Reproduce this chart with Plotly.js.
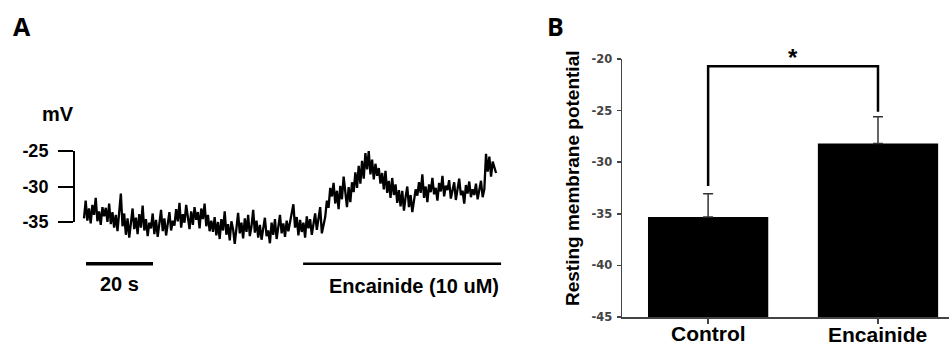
<!DOCTYPE html>
<html>
<head>
<meta charset="utf-8">
<script src="https://cdn.plot.ly/plotly-3.0.1.min.js"></script>
<style>html,body{margin:0;padding:0;background:#fff;}#chart{width:949px;height:346px;}</style>
</head>
<body>
<div id="chart"></div>
<script>
// ---------- Panel A data: membrane potential trace (mV), sampled every 0.5 s ----------
const sampleInterval = 0.5; // s
const membranePotential = [
  -34.5, -32.0, -34.8, -33.1, -35.2, -32.6, -34.0, -31.6, -34.9, -33.5, -35.4, -32.9, -34.2, -33.0, -35.0, -32.4,
  -35.3, -33.6, -35.8, -34.0, -36.3, -33.4, -31.0, -35.6, -33.8, -36.8, -34.5, -37.2, -34.9, -33.1, -36.0, -34.4,
  -36.7, -33.9, -35.8, -32.7, -36.2, -34.6, -37.0, -35.1,
  -35.9, -33.8, -36.7, -34.7, -37.1, -35.0, -33.3, -36.3, -34.5, -36.9, -35.4, -33.6, -36.2, -34.8,
  -35.5, -33.2, -34.9, -32.3, -35.8, -33.9, -35.1, -32.6, -34.3, -36.0, -33.5, -35.4, -32.9, -34.7, -33.6, -35.9,
  -33.1, -34.6, -32.4, -35.6, -34.0, -36.3, -34.8,
  -36.4, -34.3, -36.9, -35.0, -37.4, -34.6, -36.2, -33.5, -36.8, -35.3, -37.6, -34.9, -36.0, -38.1, -35.4, -33.7,
  -36.6, -35.1, -37.3, -34.5, -36.4, -34.0, -37.0, -35.6, -33.3, -36.5, -34.8, -37.2,
  -35.4, -37.5, -35.9, -34.4, -37.0, -36.2, -38.0, -35.1, -36.8, -34.6, -37.4, -35.7, -34.0, -36.6, -35.2, -37.1,
  -34.8, -36.3, -35.0, -33.6, -32.5, -35.8, -34.3, -36.9,
  -34.7, -36.4, -35.1, -37.2, -34.2, -35.9, -34.6, -36.8, -35.3, -33.8, -36.1, -34.5, -32.9, -36.6, -35.4,
  -34.3, -32.0, -33.0, -30.2, -31.4,
  -29.5, -32.4, -30.6, -33.2, -29.9, -31.8, -28.6, -31.2, -32.9, -30.1, -32.2, -29.4,
  -30.8, -28.0, -30.2, -27.1, -29.6, -26.4, -28.9, -25.3,
  -27.6, -25.0, -28.3, -26.2, -29.0, -26.8, -28.5,
  -27.4, -29.6, -28.1, -30.4, -27.8, -30.9, -29.2, -31.6, -28.8, -31.2, -29.7, -32.3, -30.5,
  -32.8, -30.6, -33.4, -31.5, -30.0, -32.9, -31.2, -33.6, -31.8, -30.4,
  -31.3, -29.4, -30.9, -28.3, -31.6, -30.0, -32.2, -29.7, -30.8, -28.8, -31.1, -30.2, -32.0, -29.5, -30.7, -28.5,
  -31.4, -29.9, -30.5, -29.1, -31.7, -30.3, -29.4, -31.9, -30.1, -28.9, -31.2, -30.6, -32.4, -29.8, -31.0, -29.3,
  -31.5, -30.4,
  -31.2, -29.6, -31.8, -30.3, -29.2, -31.5, -30.4,
  -25.4, -27.9, -25.8, -28.6, -26.5, -27.3, -28.1
];
const voltageTicks = [-35, -30, -25];
const scaleBarSeconds = 20;
const encainideWindow = [65.4, 124.5]; // s, application period

// ---------- Panel B data ----------
const groups = ['Control', 'Encainide'];
const restingMeans = [-35.3, -28.2];
const restingSEM = [2.25, 2.6];
const restingTicks = [-45, -40, -35, -30, -25, -20];
const axisFloor = -45;

// ---------- geometry helpers (pixels -> paper) ----------
const W = 949, H = 346;
const px = x => x / W;
const py = y => 1 - y / H;

const BOLD = 'Liberation Sans, Arial, sans-serif';
const boldLabel = v => '<b>' + String(v) + '</b>';

const traces = [
  {
    type: 'scatter', mode: 'lines',
    x0: 0, dx: sampleInterval, y: membranePotential,
    xaxis: 'x', yaxis: 'y',
    line: {color: '#000', width: 2.3},
    hoverinfo: 'skip'
  },
  { // carrier for the voltage bracket axis
    type: 'scatter', mode: 'lines', x: [], y: [],
    xaxis: 'x', yaxis: 'y3', hoverinfo: 'skip'
  },
  {
    type: 'bar', x: groups,
    y: restingMeans.map(m => m - axisFloor), base: axisFloor,
    xaxis: 'x2', yaxis: 'y2',
    width: 0.708,
    marker: {color: '#000', line: {width: 0}},
    error_y: {
      type: 'data',
      array: restingSEM,
      arrayminus: restingSEM.map(() => 0),
      symmetric: false,
      color: '#333', thickness: 1.5, width: 5
    },
    hoverinfo: 'skip'
  }
];

const annotations = [
  {text: '<b>A</b>', xref: 'paper', yref: 'paper', x: px(11), y: py(26),
   xanchor: 'left', yanchor: 'middle', showarrow: false,
   font: {family: 'Open Sans, sans-serif', size: 25, color: '#000'}},
  {text: '<b>B</b>', xref: 'paper', yref: 'paper', x: px(545), y: py(26),
   xanchor: 'left', yanchor: 'middle', showarrow: false,
   font: {family: 'Open Sans, sans-serif', size: 25, color: '#000'}},
  {text: '<b>mV</b>', xref: 'paper', yref: 'paper', x: px(58), y: py(114),
   xanchor: 'center', yanchor: 'middle', showarrow: false,
   font: {family: BOLD, size: 20, color: '#000'}},
  {text: '<b>20 s</b>', xref: 'x', yref: 'paper', x: 0.6 + scaleBarSeconds / 2, y: py(284),
   xanchor: 'center', yanchor: 'middle', showarrow: false,
   font: {family: BOLD, size: 20, color: '#000'}},
  {text: '<b>Encainide (10 uM)</b>', xref: 'x', yref: 'paper', x: encainideWindow[1], y: py(286),
   xanchor: 'right', yanchor: 'middle', showarrow: false,
   font: {family: BOLD, size: 20, color: '#000'}},
  {text: '<b>Resting membrane potential</b>', xref: 'paper', yref: 'paper', x: px(572), y: py(178),
   xanchor: 'center', yanchor: 'middle', showarrow: false, textangle: -90,
   font: {family: BOLD, size: 19, color: '#000'}},
  {text: '<b>*</b>', xref: 'x2', yref: 'paper', x: 0.5, y: py(57),
   xanchor: 'center', yanchor: 'middle', showarrow: false,
   font: {family: BOLD, size: 24, color: '#000'}}
];
groups.forEach((g, i) => annotations.push({
  text: boldLabel(g), xref: 'x2', yref: 'paper', x: g, y: py(333 + i),
  xanchor: 'center', yanchor: 'middle', showarrow: false,
  font: {family: BOLD, size: 21, color: '#000'}
}));

const layout = {
  width: W, height: H,
  margin: {l: 0, r: 0, t: 0, b: 0},
  paper_bgcolor: '#fff', plot_bgcolor: 'rgba(0,0,0,0)',
  showlegend: false,
  font: {family: BOLD, color: '#000'},
  xaxis: {
    domain: [px(74), px(505)], range: [-2.985, 125.67],
    visible: false, fixedrange: true
  },
  yaxis: {
    domain: [py(300), py(140)], range: [-45.99, -23.45],
    visible: false, fixedrange: true
  },
  yaxis3: {
    domain: [py(222), py(151)], range: [-35, -25],
    anchor: 'free', position: px(74),
    showline: true, linecolor: '#000', linewidth: 2,
    ticks: 'outside', ticklen: 15, tickwidth: 2, tickcolor: '#000',
    tickmode: 'array', tickvals: voltageTicks, ticktext: voltageTicks.map(boldLabel),
    tickfont: {family: BOLD, size: 18, color: '#000'},
    ticklabelstandoff: 6,
    showgrid: false, zeroline: false, fixedrange: true
  },
  xaxis2: {
    domain: [px(622), 1], range: [-0.507, 1.418], type: 'category',
    anchor: 'y2',
    showline: true, linecolor: '#444', linewidth: 1.5,
    ticks: 'outside', ticklen: 5, tickwidth: 1.5, tickcolor: '#444',
    showticklabels: false,
    showgrid: false, zeroline: false, fixedrange: true
  },
  yaxis2: {
    domain: [py(317), py(59)], range: [-45, -20],
    anchor: 'x2',
    showline: true, linecolor: '#444', linewidth: 1.5,
    ticks: 'outside', ticklen: 4, tickwidth: 1.5, tickcolor: '#444',
    tickmode: 'array', tickvals: restingTicks, ticktext: restingTicks.map(boldLabel),
    tickfont: {family: 'DejaVu Sans, sans-serif', size: 11.5, color: '#444'},
    ticklabelstandoff: 2,
    showgrid: false, zeroline: false, fixedrange: true
  },
  shapes: [
    { // 20 s scale bar
      type: 'line', xref: 'x', yref: 'y',
      x0: 0.6, x1: 0.6 + scaleBarSeconds, y0: -40.9, y1: -40.9,
      line: {color: '#000', width: 3.5}
    },
    { // encainide application bar
      type: 'line', xref: 'x', yref: 'y',
      x0: encainideWindow[0], x1: encainideWindow[1], y0: -40.9, y1: -40.9,
      line: {color: '#000', width: 2.5}
    },
    { // significance bracket
      type: 'path', xref: 'x2', yref: 'y2',
      path: 'M 0 -32.3 L 0 -20.7 L 1 -20.7 L 1 -25.1',
      line: {color: '#000', width: 2.5}
    }
  ],
  annotations: annotations
};

Plotly.newPlot('chart', traces, layout, {staticPlot: true, displayModeBar: false});
</script>
</body>
</html>
